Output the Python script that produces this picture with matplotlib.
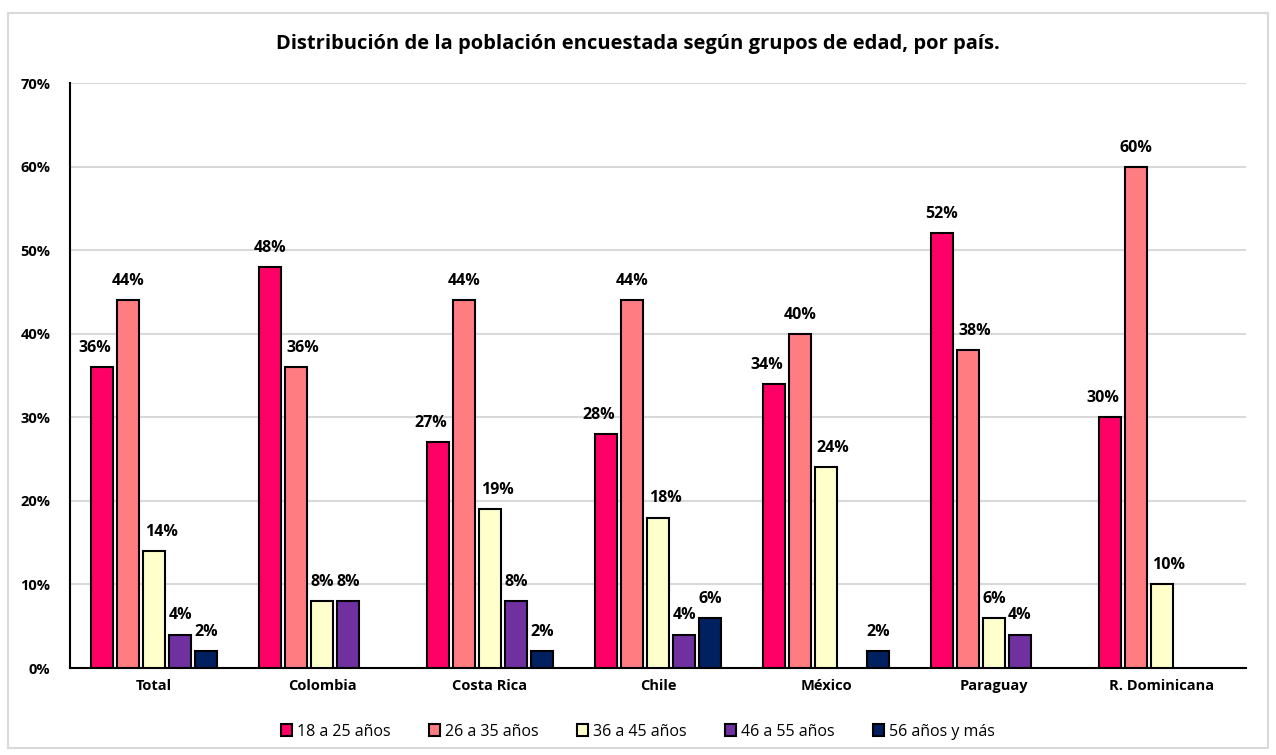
import matplotlib.pyplot as plt
import numpy as np
from matplotlib.patches import Rectangle

paises = ["Total", "Colombia", "Costa Rica", "Chile", "México", "Paraguay", "R. Dominicana"]
grupos = ["18 a 25 años", "26 a 35 años", "36 a 45 años", "46 a 55 años", "56 años y más"]
edad_18_25 = [36, 48, 27, 28, 34, 52, 30]
edad_26_35 = [44, 36, 44, 44, 40, 38, 60]
edad_36_45 = [14, 8, 19, 18, 24, 6, 10]
edad_46_55 = [4, 8, 8, 4, 0, 4, 0]
edad_56_mas = [2, 0, 2, 6, 2, 0, 0]
colores = ["#FF0066", "#FF7C80", "#FFFFCC", "#7030A0", "#002060"]

series = [edad_18_25, edad_26_35, edad_36_45, edad_46_55, edad_56_mas]
tabla = np.array(series, dtype=float)

plt.rcParams['font.family'] = ['Open Sans', 'DejaVu Sans']

fig = plt.figure(figsize=(12.76, 7.55), dpi=100)
ax = fig.add_axes([0.0549, 0.1152, 0.9216, 0.7748])

x = np.arange(len(paises))
paso = 0.155
ancho = 0.131
for k, (vals, col, nom) in enumerate(zip(series, colores, grupos)):
    pos = x + (k - 2) * paso
    v = np.array(vals, dtype=float)
    h = np.where(v > 0, v, np.nan)
    ax.bar(pos, h, width=ancho, color=col, edgecolor="black", linewidth=1.5,
           label=nom, zorder=3)
    for j, (xi, vi) in enumerate(zip(pos, v)):
        if vi <= 0:
            continue
        # nudge label sideways if a taller neighbour bar would hit it
        izq = tabla[k - 1, j] > vi + 1 if k > 0 else False
        der = tabla[k + 1, j] > vi + 1 if k < 4 else False
        dx = 0
        if vi >= 10:
            if der and not izq:
                dx = -5
            elif izq and not der:
                dx = 5
        ax.annotate("{:.0f}%".format(vi), (xi, vi), xytext=(dx, 8),
                    textcoords="offset points", ha="center", va="bottom",
                    fontsize=11.5, fontweight="bold", zorder=4)

ax.set_xlim(-0.5, len(paises) - 0.5)
ax.set_ylim(0, 70)
ax.set_yticks(np.arange(0, 71, 10))
ax.set_yticklabels(["{}%".format(t) for t in range(0, 71, 10)], fontsize=10.5, fontweight="bold")
ax.set_xticks(x)
ax.set_xticklabels(paises, fontsize=10.5, fontweight="bold")
ax.tick_params(axis="both", length=0, pad=8)
ax.tick_params(axis="y", pad=14)
ax.grid(axis="y", color="#D9D9D9", linewidth=1.5, zorder=0)
for s in ["top", "right"]:
    ax.spines[s].set_visible(False)
ax.spines["left"].set_linewidth(1.5)
ax.spines["bottom"].set_linewidth(1.5)

fig.text(0.5, 0.942, "Distribución de la población encuestada según grupos de edad, por país.",
         ha="center", va="center", fontsize=14.5, fontweight="bold")

leg = fig.legend(loc="center", bbox_to_anchor=(0.5, 0.031), ncol=5, frameon=False,
                 handlelength=0.7, handleheight=0.7, handletextpad=0.3, columnspacing=2.4,
                 prop={"size": 11.5})

fig.patches.append(Rectangle((0.006, 0.009), 0.988, 0.974, transform=fig.transFigure,
                             fill=False, edgecolor="#D9D9D9", linewidth=1.5))

fig.savefig("out.png", dpi=100)
